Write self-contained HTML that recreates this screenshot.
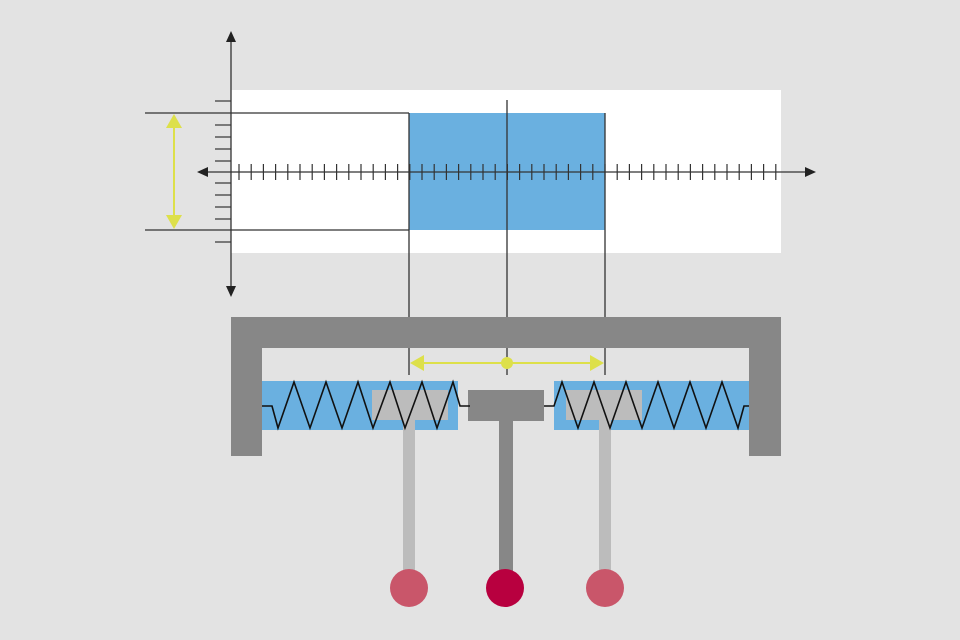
<!DOCTYPE html>
<html><head><meta charset="utf-8"><style>html,body{margin:0;padding:0;background:#e3e3e3}svg{display:block}</style></head>
<body>
<svg width="960" height="640" viewBox="0 0 960 640" xmlns="http://www.w3.org/2000/svg">
<rect width="960" height="640" fill="#e3e3e3"/>
<rect x="231" y="90" width="550" height="163" fill="#fff"/>
<rect x="409" y="113" width="196" height="117" fill="#6ab0e0"/>
<g stroke="#333" stroke-width="1.3" fill="none">
<line x1="145" y1="113" x2="409" y2="113"/>
<line x1="145" y1="230" x2="409" y2="230"/>
<line x1="409" y1="113" x2="409" y2="375"/>
<line x1="605" y1="113" x2="605" y2="375"/>
<line x1="507" y1="100" x2="507" y2="375"/>
<line x1="231" y1="40" x2="231" y2="290"/>
<line x1="205" y1="172" x2="808" y2="172"/>
</g>
<g stroke="#333" stroke-width="1.2">
<line x1="215" y1="101" x2="231" y2="101"/><line x1="215" y1="125" x2="231" y2="125"/><line x1="215" y1="137" x2="231" y2="137"/><line x1="215" y1="149" x2="231" y2="149"/><line x1="215" y1="161" x2="231" y2="161"/><line x1="215" y1="183" x2="231" y2="183"/><line x1="215" y1="195" x2="231" y2="195"/><line x1="215" y1="207" x2="231" y2="207"/><line x1="215" y1="219" x2="231" y2="219"/><line x1="215" y1="242" x2="231" y2="242"/>
</g>
<g stroke="#333" stroke-width="1.2">
<line x1="239" y1="164" x2="239" y2="180"/><line x1="251.2" y1="164" x2="251.2" y2="180"/><line x1="263.4" y1="164" x2="263.4" y2="180"/><line x1="275.6" y1="164" x2="275.6" y2="180"/><line x1="287.8" y1="164" x2="287.8" y2="180"/><line x1="300" y1="164" x2="300" y2="180"/><line x1="312.2" y1="164" x2="312.2" y2="180"/><line x1="324.4" y1="164" x2="324.4" y2="180"/><line x1="336.6" y1="164" x2="336.6" y2="180"/><line x1="348.8" y1="164" x2="348.8" y2="180"/><line x1="361" y1="164" x2="361" y2="180"/><line x1="373.2" y1="164" x2="373.2" y2="180"/><line x1="385.4" y1="164" x2="385.4" y2="180"/><line x1="397.6" y1="164" x2="397.6" y2="180"/><line x1="409.8" y1="164" x2="409.8" y2="180"/><line x1="422" y1="164" x2="422" y2="180"/><line x1="434.2" y1="164" x2="434.2" y2="180"/><line x1="446.4" y1="164" x2="446.4" y2="180"/><line x1="458.6" y1="164" x2="458.6" y2="180"/><line x1="470.8" y1="164" x2="470.8" y2="180"/><line x1="483" y1="164" x2="483" y2="180"/><line x1="495.2" y1="164" x2="495.2" y2="180"/><line x1="507.4" y1="164" x2="507.4" y2="180"/><line x1="519.6" y1="164" x2="519.6" y2="180"/><line x1="531.8" y1="164" x2="531.8" y2="180"/><line x1="544" y1="164" x2="544" y2="180"/><line x1="556.2" y1="164" x2="556.2" y2="180"/><line x1="568.4" y1="164" x2="568.4" y2="180"/><line x1="580.6" y1="164" x2="580.6" y2="180"/><line x1="592.8" y1="164" x2="592.8" y2="180"/><line x1="605" y1="164" x2="605" y2="180"/><line x1="617.2" y1="164" x2="617.2" y2="180"/><line x1="629.4" y1="164" x2="629.4" y2="180"/><line x1="641.6" y1="164" x2="641.6" y2="180"/><line x1="653.8" y1="164" x2="653.8" y2="180"/><line x1="666" y1="164" x2="666" y2="180"/><line x1="678.2" y1="164" x2="678.2" y2="180"/><line x1="690.4" y1="164" x2="690.4" y2="180"/><line x1="702.6" y1="164" x2="702.6" y2="180"/><line x1="714.8" y1="164" x2="714.8" y2="180"/><line x1="727" y1="164" x2="727" y2="180"/><line x1="739.2" y1="164" x2="739.2" y2="180"/><line x1="751.4" y1="164" x2="751.4" y2="180"/><line x1="763.6" y1="164" x2="763.6" y2="180"/><line x1="775.8" y1="164" x2="775.8" y2="180"/>
</g>
<polygon points="231,31 226,42 236,42" fill="#222"/>
<polygon points="231,297 226,286 236,286" fill="#222"/>
<polygon points="197,172 208,167 208,177" fill="#222"/>
<polygon points="816,172 805,167 805,177" fill="#222"/>
<g stroke="#dde04a" stroke-width="2" fill="#dde04a">
<line x1="174" y1="122" x2="174" y2="221"/>
<polygon points="174,114 166,128 182,128" stroke="none"/>
<polygon points="174,229 166,215 182,215" stroke="none"/>
<line x1="420" y1="363" x2="594" y2="363"/>
<polygon points="410,363 424,355 424,371" stroke="none"/>
<polygon points="604,363 590,355 590,371" stroke="none"/>
<circle cx="507" cy="363" r="6" stroke="none"/>
</g>
<path d="M231,317 H781 V456 H749 V348 H262 V456 H231 Z" fill="#878787"/>
<rect x="262" y="381" width="196" height="49" fill="#6ab0e0"/>
<rect x="554" y="381" width="195" height="49" fill="#6ab0e0"/>
<rect x="372" y="390" width="76" height="30" fill="#bcbcbc"/>
<rect x="566" y="390" width="76" height="30" fill="#bcbcbc"/>
<rect x="468" y="390" width="76" height="31" fill="#878787"/>
<rect x="499" y="421" width="14" height="154" fill="#878787"/>
<rect x="403" y="420" width="12" height="155" fill="#bcbcbc"/>
<rect x="599" y="420" width="12" height="155" fill="#bcbcbc"/>
<g stroke="#111" stroke-width="1.6" fill="none" stroke-linejoin="miter">
<polyline points="262,406 272,406 278,428 294,382 310,428 326,382 342,428 358,382 373,428 390,382 405,428 422,382 437,428 453,382 460,406 470,406"/>
<polyline points="544,406 554,406 562,382 578,428 594,382 610,428 626,382 642,428 658,382 674,428 690,382 706,428 722,382 738,428 744,406 749,406"/>
</g>
<circle cx="409" cy="588" r="19" fill="#c9566a"/>
<circle cx="505" cy="588" r="19" fill="#b8003f"/>
<circle cx="605" cy="588" r="19" fill="#c9566a"/>
</svg>
</body></html>
